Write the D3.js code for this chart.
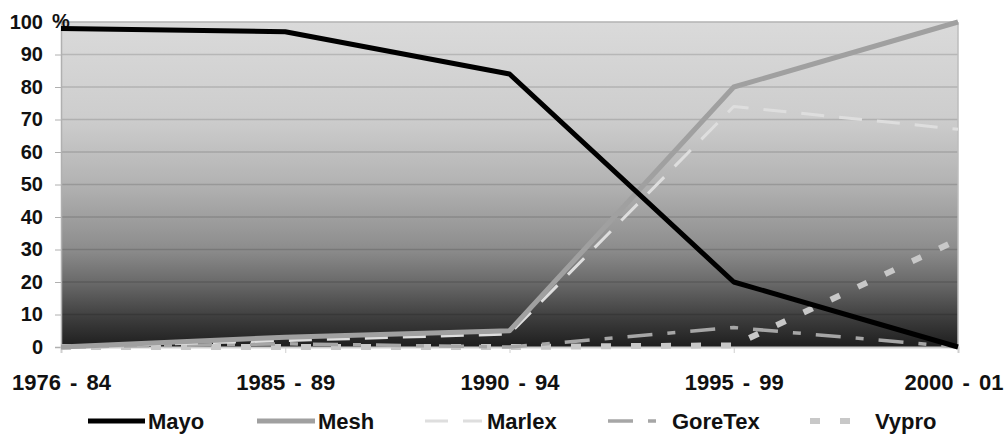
<!DOCTYPE html>
<html><head><meta charset="utf-8">
<script src="https://cdn.jsdelivr.net/npm/d3@7/dist/d3.min.js"></script>
<style>body{margin:0;background:#fff}svg{display:block}</style>
</head><body><svg id="c" width="1005" height="447"></svg>
<script>
const categories = ["1976 - 84","1985 - 89","1990 - 94","1995 - 99","2000 - 01"];
const mayo    = [98, 97, 84, 20, 0];
const mesh    = [0, 3, 5, 80, 100];
const marlex  = [0, 2, 4, 74, 67];
const goretex = [0, 1, 0, 6, 0];
const vypro   = [0, 0, 0, 0.5, 33];
const yTicks  = [0,10,20,30,40,50,60,70,80,90,100];

const series = [
  {name:"Mayo", values:mayo, color:"#000", width:5, dash:null},
  {name:"Mesh", values:mesh, color:"#a0a0a0", width:5, dash:null},
  {name:"Marlex", values:marlex, color:"#dedede", width:3, dash:"23,15"},
  {name:"GoreTex", values:goretex, color:"#a6a6a6", width:3.5, dash:"25,15,8,15"},
  {name:"Vypro", values:vypro, color:"#c8c8c8", width:6, dash:"10,20"}
];

const FONT = "Liberation Sans, Arial, sans-serif";
const svg = d3.select("#c");
const L=61, R=958, T=22, B=347;
const x = d3.scalePoint().domain(categories).range([L,R]);
const y = d3.scaleLinear().domain([0,100]).range([B,T]);

const defs = svg.append("defs");
const g = defs.append("linearGradient").attr("id","bg").attr("x1",0).attr("y1",0).attr("x2",0).attr("y2",1);
[[0,"#dadada"],[0.3,"#cdcdcd"],[0.5,"#b2b2b2"],[0.7,"#8c8c8c"],[0.8,"#6a6a6a"],[0.92,"#3a3a3a"],[1,"#1e1e1e"]]
  .forEach(([o,c])=>g.append("stop").attr("offset",o).attr("stop-color",c));

svg.append("rect").attr("x",L).attr("y",T).attr("width",R-L).attr("height",B-T).attr("fill","url(#bg)");

// gridlines
svg.append("g").selectAll("line").data(yTicks.filter(d=>d>0)).join("line")
  .attr("x1",L).attr("x2",R).attr("y1",d=>y(d)).attr("y2",d=>y(d))
  .attr("stroke","rgba(0,0,0,0.14)").attr("stroke-width",1.5);

// border
svg.append("line").attr("x1",R).attr("x2",R).attr("y1",T).attr("y2",B).attr("stroke","#bdbdbd").attr("stroke-width",1.5);
svg.append("line").attr("x1",L).attr("x2",R).attr("y1",T).attr("y2",T).attr("stroke","#bbbbbb").attr("stroke-width",1.5);

// y axis
const ya = svg.append("g").attr("transform",`translate(${L},0)`)
  .call(d3.axisLeft(y).tickValues(yTicks).tickSize(6).tickPadding(12));
ya.select(".domain").attr("stroke","#b0b0b0").attr("stroke-width",1.5);
ya.selectAll(".tick line").attr("stroke","#b0b0b0");
ya.selectAll("text").style("font-family",FONT).style("font-weight","bold")
  .style("font-size","20px").attr("fill","#111");
svg.append("text").attr("x",52).attr("y",y(100)+6).text("%")
  .style("font-family",FONT).style("font-weight","bold").style("font-size","20px").attr("fill","#111");

// x axis
const xa = svg.append("g").attr("transform",`translate(0,${B})`)
  .call(d3.axisBottom(x).tickSize(6).tickPadding(21));
xa.select(".domain").attr("stroke","#cfcfcf").attr("stroke-width",2);
xa.selectAll(".tick line").attr("stroke","#cfcfcf");
xa.selectAll("text").style("font-family",FONT).style("font-weight","bold")
  .style("font-size","22px").style("word-spacing","3px").attr("fill","#111");
xa.selectAll(".tick").filter((d,i,n)=>i===n.length-1).select("text")
  .attr("text-anchor","end").attr("x", 1003 - R);

// lines
const line = d3.line().x((d,i)=>x(categories[i])).y(d=>y(d));
[4,3,2,1,0].forEach(i=>{
  const s = series[i];
  svg.append("path").datum(s.values).attr("d",line).attr("fill","none")
    .attr("stroke",s.color).attr("stroke-width",s.width)
    .attr("stroke-dasharray",s.dash).attr("stroke-linejoin","round");
});

// legend
const legX = [88, 257, 425, 608, 810];
const legLen = [57, 58, 57, 57, 40];
const legTextX = [148, 318, 487, 672, 875];
series.forEach((s,i)=>{
  svg.append("line").attr("x1",legX[i]).attr("x2",legX[i]+legLen[i]).attr("y1",421).attr("y2",421)
    .attr("stroke",s.color).attr("stroke-width",s.width).attr("stroke-dasharray",s.dash);
  svg.append("text").attr("x",legTextX[i]).attr("y",429).text(s.name)
    .style("font-family",FONT).style("font-weight","bold")
    .style("font-size","22px").attr("fill","#111");
});
</script></body></html>
